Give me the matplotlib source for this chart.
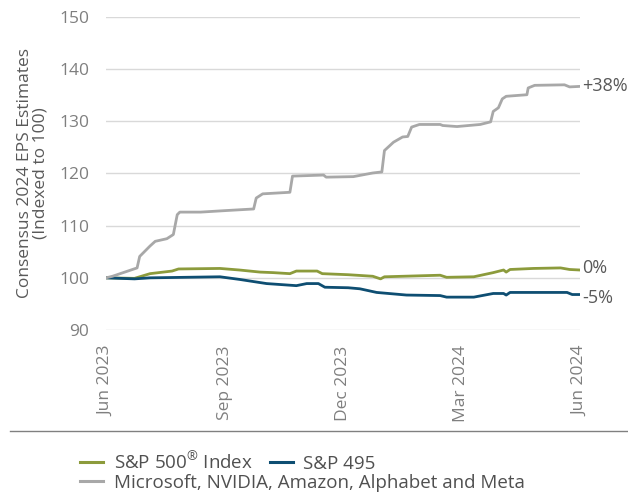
import numpy as np
import pandas as pd
import matplotlib
matplotlib.use("Agg")
import matplotlib.pyplot as plt
from matplotlib.lines import Line2D

plt.rcParams['font.family'] = ['Open Sans', 'DejaVu Sans']
plt.rcParams['mathtext.fontset'] = 'custom'
plt.rcParams['mathtext.rm'] = 'Open Sans'

# Data (days since 1 Jun 2023, index level)
START = pd.Timestamp("2023-06-01")

mag5_days = [0, 5, 24, 26, 34, 38, 47, 52, 55, 57, 73, 93, 114, 116, 121, 142,
             144, 168, 170, 191, 206, 213, 215, 222, 229, 233, 236, 242, 258,
             260, 271, 289, 297, 299, 303, 306, 309, 325, 326, 331, 354, 358, 366]
mag5_vals = [100.0, 100.3, 101.9, 104.1, 106.1, 107.0, 107.5, 108.3, 112.1,
             112.6, 112.6, 112.9, 113.2, 115.3, 116.1, 116.4, 119.5, 119.7,
             119.3, 119.4, 120.1, 120.3, 124.4, 126.0, 127.0, 127.1, 128.9,
             129.4, 129.4, 129.2, 129.0, 129.4, 129.9, 131.9, 132.6, 134.3,
             134.8, 135.1, 136.4, 136.9, 137.0, 136.6, 136.7]

spx_days = [0, 22, 34, 51, 56, 88, 103, 119, 129, 142, 147, 163, 167, 187, 206,
            212, 215, 258, 263, 284, 299, 307, 309, 312, 330, 351, 358, 366]
spx_vals = [100.0, 99.9, 100.8, 101.3, 101.7, 101.8, 101.5, 101.1, 101.0, 100.8,
            101.3, 101.3, 100.8, 100.6, 100.3, 99.8, 100.2, 100.5, 100.1, 100.2,
            101.0, 101.5, 101.1, 101.6, 101.8, 101.9, 101.6, 101.5]

sp495_days = [0, 22, 34, 88, 103, 124, 147, 155, 164, 169, 187, 196, 209, 232,
              258, 263, 284, 299, 307, 309, 312, 356, 360, 366]
sp495_vals = [100.0, 99.8, 100.0, 100.2, 99.7, 98.9, 98.5, 98.9, 98.9, 98.2,
              98.1, 97.9, 97.2, 96.7, 96.6, 96.3, 96.3, 97.0, 97.0, 96.7, 97.2,
              97.2, 96.8, 96.8]

tick_labels = ["Jun 2023", "Sep 2023", "Dec 2023", "Mar 2024", "Jun 2024"]
end_labels = ["+38%", "0%", "-5%"]

GREEN = "#8c9b3c"
BLUE = "#0e4e72"
GRAY = "#a8a8a8"
TXT = "#7f7f7f"


def to_dates(days):
    return START + pd.to_timedelta(days, unit="D")


fig = plt.figure(figsize=(6.28, 4.94), dpi=100)
ax = fig.add_axes([106 / 628, 1 - 330 / 494, 474 / 628, 313 / 494])

ax.plot(to_dates(spx_days), spx_vals, color=GREEN, lw=2.0, zorder=3)
ax.plot(to_dates(sp495_days), sp495_vals, color=BLUE, lw=2.0, zorder=3)
ax.plot(to_dates(mag5_days), mag5_vals, color=GRAY, lw=2.0, zorder=3)

ax.set_ylim(90, 150)
ax.set_yticks(np.arange(90, 151, 10))
ax.set_xlim(START, to_dates([366])[0])
ax.set_xticks(pd.to_datetime([f"01 {t}" for t in tick_labels], format="%d %b %Y"))
ax.set_xticklabels(tick_labels, rotation=90)
ax.grid(axis="y", color="#d9d9d9", lw=1)
ax.set_axisbelow(True)
for s in ax.spines.values():
    s.set_visible(False)
ax.tick_params(length=0, labelsize=12.5, colors=TXT, pad=12)
ax.tick_params(axis="x", pad=11)

ax.set_ylabel("Consensus 2024 EPS Estimates\n(Indexed to 100)", fontsize=12.5,
              color="#595959", linespacing=0.9, labelpad=8)

# end-of-line labels
end_y = [mag5_vals[-1], spx_vals[-1] + 0.3, sp495_vals[-1] - 0.6]
for lab, yv in zip(end_labels, end_y):
    ax.text(1.004, yv, lab, transform=ax.get_yaxis_transform(), fontsize=13,
            color="#595959", va="center", ha="left")

# separator above legend
fig.add_artist(Line2D([10 / 628, 1.0], [1 - 431 / 494] * 2, color="#808080", lw=1))

h_spx = Line2D([], [], color=GREEN, lw=2.2)
h_495 = Line2D([], [], color=BLUE, lw=2.2)
h_mag = Line2D([], [], color=GRAY, lw=2.2)
leg_kw = dict(frameon=False, fontsize=13.5, handlelength=1.25, handletextpad=0.55,
              labelcolor="#505050", borderaxespad=0, borderpad=0)
fig.legend([h_spx, h_495], [r"S&P 500$^{\mathrm{®}}$ Index", "S&P 495"], ncol=2,
           columnspacing=0.9, loc="center left",
           bbox_to_anchor=(80 / 628, 1 - 462 / 494), **leg_kw)
fig.legend([h_mag], ["Microsoft, NVIDIA, Amazon, Alphabet and Meta"],
           loc="center left", bbox_to_anchor=(80 / 628, 1 - 483 / 494), **leg_kw)

fig.savefig("out.png", dpi=100)
